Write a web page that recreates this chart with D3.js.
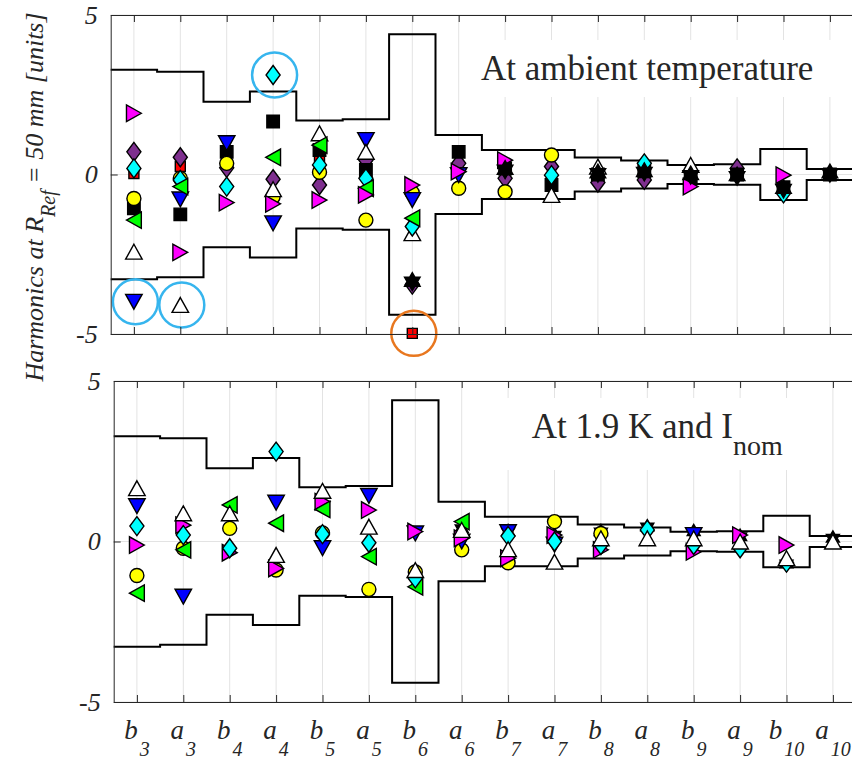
<!DOCTYPE html>
<html>
<head>
<meta charset="utf-8">
<script src="https://cdn.jsdelivr.net/npm/d3@7"></script>
<style>
    body { margin: 0; background: #fff; }
    text { font-family: "Liberation Serif", "Times New Roman", serif; fill: #262626; }
</style>
</head>
<body>
<div id="chart"></div>
<script>
// harmonics, in the order of the x axis
var categories = ['b3', 'a3', 'b4', 'a4', 'b5', 'a5', 'b6', 'a6', 'b7', 'a7', 'b8', 'a8', 'b9', 'a9', 'b10', 'a10'];
var yTicks = [-5, 0, 5];

// tolerance band (symmetric, +/-)
var tolerance = [3.28, 3.22, 2.28, 2.6, 1.69, 1.73, 4.4, 1.24, 0.77, 0.77, 0.53, 0.44, 0.3, 0.32, 0.8, 0.17];

// at ambient temperature
var warmRed  = [0.03, 0.25, null, null, 0.56, null, -4.98, null, null, null, null, null, null, null, null, null];
var warmPur  = [0.71, 0.54, 0.21, -0.15, -0.33, 0.45, -3.45, 0.35, -0.12, 0.25, -0.25, -0.17, null, 0.19, null, null];
var warmBlk  = [-1.06, -1.25, 0.71, 1.66, 0.77, 0.14, null, 0.71, 0.19, -0.33, 0.0, 0.1, -0.1, 0.0, -0.4, 0.0];
var warmYel  = [-0.75, -0.12, 0.35, -0.7, 0.07, -1.43, -0.57, -0.43, -0.54, 0.61, null, null, null, null, null, null];
var warmBlu  = [-3.99, -0.78, 0.98, -1.53, null, 1.08, -0.8, -0.02, null, null, null, null, null, null, null, null];
var warmWht  = [-2.42, -4.09, null, -0.46, 1.29, 0.71, -1.84, null, null, -0.64, 0.25, null, 0.3, null, null, null];
var warmCyan = [0.19, -0.17, -0.38, 3.12, 0.3, -0.12, -1.63, null, null, -0.02, null, 0.35, null, null, -0.59, null];
var warmGrn  = [-1.43, -0.38, null, 0.54, 0.92, -0.43, -1.37, null, null, null, null, null, null, null, null, null];
var warmMag  = [1.92, -2.44, -0.88, -0.92, -0.8, -0.64, -0.33, 0.09, 0.45, null, null, null, -0.38, null, -0.02, null];
var warmHex  = [null, null, null, null, null, null, -3.36, null, 0.15, null, 0.04, 0.08, -0.02, -0.05, -0.45, 0.04];

// at 1.9 K and nominal current
var coldHex  = [null, null, null, null, null, null, null, 0.4, 0.3, 0.2, 0.3, 0.45, 0.3, 0.15, -0.7, 0.1];
var coldYel  = [-1.06, -0.21, 0.41, -0.89, 0.27, -1.49, -0.95, -0.26, -0.66, 0.62, 0.25, null, null, null, null, null];
var coldBlu  = [1.1, -1.72, null, 1.21, -0.21, 1.42, 0.25, 0.0, 0.29, -0.1, null, null, 0.2, null, null, null];
var coldMag  = [-0.11, 0.51, -0.35, -0.84, 1.24, 0.98, 0.31, 0.1, -0.52, 0.2, -0.26, null, -0.32, 0.2, -0.11, null];
var coldGrn  = [-1.61, -0.26, 1.14, 0.57, 1.0, -0.47, -1.41, 0.62, null, null, null, null, null, null, null, null];
var coldCyan = [0.48, 0.2, -0.21, 2.8, 0.23, -0.04, -1.15, null, 0.17, 0.0, -0.11, 0.36, -0.11, -0.21, -0.66, null];
var coldWht  = [1.66, 0.88, 0.88, -0.42, 1.58, 0.46, -0.89, 0.36, -0.24, -0.63, 0.1, 0.1, 0.1, 0.0, -0.52, 0.0];

// highlighted points (top panel)
var highlights = [
    { cat: 'b3', value: -3.99, color: '#36b5ee' },
    { cat: 'a3', value: -4.09, color: '#36b5ee' },
    { cat: 'a4', value: 3.12, color: '#36b5ee' },
    { cat: 'b6', value: -4.98, color: '#e8771f' }
];

var width = 852,
    height = 763,
    plotW = 742.4;

// marker shapes, MATLAB style
var shapes = {
    square: { draw: function(c, s) { c.rect(-s / 2, -s / 2, s, s); } },
    circle: { draw: function(c, s) { c.moveTo(s / 2, 0); c.arc(0, 0, s / 2, 0, 2 * Math.PI); } },
    diamond: { draw: function(c, s) {
        c.moveTo(0, -s / 2); c.lineTo(s * 0.37, 0); c.lineTo(0, s / 2); c.lineTo(-s * 0.37, 0); c.closePath();
    } },
    up: { draw: function(c, s) { var w = s / 2, h = s * 0.45; c.moveTo(0, -h); c.lineTo(w, h); c.lineTo(-w, h); c.closePath(); } },
    down: { draw: function(c, s) { var w = s / 2, h = s * 0.45; c.moveTo(0, h); c.lineTo(w, -h); c.lineTo(-w, -h); c.closePath(); } },
    right: { draw: function(c, s) { var w = s / 2, h = s * 0.45; c.moveTo(h, 0); c.lineTo(-h, -w); c.lineTo(-h, w); c.closePath(); } },
    left: { draw: function(c, s) { var w = s / 2, h = s * 0.45; c.moveTo(-h, 0); c.lineTo(h, -w); c.lineTo(h, w); c.closePath(); } },
    hexagram: { draw: function(c, s) {
        var r = s / 2, ri = r / Math.sqrt(3);
        for (var k = 0; k < 12; k++) {
            var a = -Math.PI / 2 + k * Math.PI / 6, rr = k % 2 ? ri : r;
            if (k === 0) c.moveTo(rr * Math.cos(a), rr * Math.sin(a));
            else c.lineTo(rr * Math.cos(a), rr * Math.sin(a));
        }
        c.closePath();
    } }
};

var panels = [
    {
        x0: 110.7, y0: 15, y1: 334,
        title: 'At ambient temperature', sub: null, tx: 370.3, ty: 65, box: [365, 25, 400, 57],
        series: [
            { values: warmRed, shape: 'square', fill: '#ff0000', size: 10 },
            { values: warmPur, shape: 'diamond', fill: '#7e2f8e', size: 19 },
            { values: warmBlk, shape: 'square', fill: '#000000', size: 12.5 },
            { values: warmYel, shape: 'circle', fill: '#ffff00', size: 14 },
            { values: warmBlu, shape: 'down', fill: '#0000ff', size: 16.5 },
            { values: warmWht, shape: 'up', fill: '#ffffff', size: 16.5 },
            { values: warmCyan, shape: 'diamond', fill: '#00ffff', size: 19 },
            { values: warmGrn, shape: 'left', fill: '#00ff00', size: 16.5 },
            { values: warmMag, shape: 'right', fill: '#ff00ff', size: 16.5 },
            { values: warmHex, shape: 'hexagram', fill: '#000000', size: 18 }
        ],
        xLabels: false, rings: true
    },
    {
        x0: 113.7, y0: 381, y1: 702,
        title: 'At 1.9 K and I', sub: 'nom', tx: 418, ty: 57.3, box: [387, 17, 300, 72],
        series: [
            { values: coldHex, shape: 'hexagram', fill: '#000000', size: 15 },
            { values: coldYel, shape: 'circle', fill: '#ffff00', size: 14 },
            { values: coldBlu, shape: 'down', fill: '#0000ff', size: 16.5 },
            { values: coldMag, shape: 'right', fill: '#ff00ff', size: 16.5 },
            { values: coldGrn, shape: 'left', fill: '#00ff00', size: 16.5 },
            { values: coldCyan, shape: 'diamond', fill: '#00ffff', size: 19 },
            { values: coldWht, shape: 'up', fill: '#ffffff', size: 16.5 }
        ],
        xLabels: true, rings: false
    }
];

var svg = d3.select('#chart')
    .append('svg')
    .attr('width', width)
    .attr('height', height)
    .style('display', 'block')
;

svg.append('rect').attr('width', width).attr('height', height).attr('fill', '#fff');

panels.forEach(function(p) {
    var x = d3.scalePoint().domain(categories).range([p.x0, p.x0 + plotW]).padding(0.5);
    var y = d3.scaleLinear().domain([-5, 5]).range([p.y1, p.y0]);
    var half = x.step() / 2;

    var g = svg.append('g');

    // grid
    g.selectAll('.vgrid')
        .data(categories)
        .enter()
        .append('line')
        .attr('x1', function(d) { return x(d); })
        .attr('x2', function(d) { return x(d); })
        .attr('y1', p.y0)
        .attr('y2', p.y1)
        .attr('stroke', '#e3e3e3')
        .attr('stroke-width', 1)
    ;
    g.selectAll('.hgrid')
        .data(yTicks)
        .enter()
        .append('line')
        .attr('x1', p.x0)
        .attr('x2', p.x0 + plotW)
        .attr('y1', function(d) { return y(d); })
        .attr('y2', function(d) { return y(d); })
        .attr('stroke', '#e3e3e3')
        .attr('stroke-width', 1)
    ;

    // white box behind the title
    g.append('rect')
        .attr('x', p.x0 + p.box[0])
        .attr('y', p.y0 + p.box[1])
        .attr('width', p.box[2])
        .attr('height', p.box[3])
        .attr('fill', '#fff')
    ;

    // tolerance band
    var line = d3.line()
        .x(function(d) { return d[0]; })
        .y(function(d) { return y(d[1]); })
    ;
    [1, -1].forEach(function(sign) {
        var pts = [];
        categories.forEach(function(c, i) {
            pts.push([x(c) - half, sign * tolerance[i]]);
            pts.push([x(c) + half, sign * tolerance[i]]);
        });
        g.append('path')
            .attr('d', line(pts))
            .attr('fill', 'none')
            .attr('stroke', '#000')
            .attr('stroke-width', 2)
        ;
    });

    // markers
    p.series.forEach(function(s) {
        var sym = d3.symbol().type(shapes[s.shape]).size(s.size);
        var pts = categories
            .map(function(c, i) { return { cat: c, value: s.values[i] }; })
            .filter(function(d) { return d.value !== null; })
        ;
        g.append('g')
            .selectAll('path')
            .data(pts)
            .enter()
            .append('path')
            .attr('d', sym)
            .attr('transform', function(d) { return 'translate(' + x(d.cat) + ',' + y(d.value) + ')'; })
            .attr('fill', s.fill)
            .attr('stroke', '#000')
            .attr('stroke-width', 1.4)
            .attr('stroke-linejoin', 'miter')
        ;
    });

    if (p.rings) {
        g.selectAll('.ring')
            .data(highlights)
            .enter()
            .append('circle')
            .attr('cx', function(d) { return x(d.cat) + 1.5; })
            .attr('cy', function(d) { return y(d.value); })
            .attr('r', 22.5)
            .attr('fill', 'none')
            .attr('stroke', function(d) { return d.color; })
            .attr('stroke-width', 2.5)
        ;
    }

    // title
    var t = g.append('text')
        .attr('x', p.x0 + p.tx)
        .attr('y', p.y0 + p.ty)
        .style('font-size', '35px')
        .text(p.title)
    ;
    if (p.sub) {
        t.append('tspan')
            .attr('dy', 17)
            .style('font-size', '28px')
            .text(p.sub)
        ;
    }

    // axes
    var axTop = g.append('g')
        .attr('transform', 'translate(0,' + p.y0 + ')')
        .call(d3.axisTop(x).tickSize(-7).tickSizeOuter(0).tickFormat(''));
    var axBot = g.append('g')
        .attr('transform', 'translate(0,' + p.y1 + ')')
        .call(d3.axisBottom(x).tickSize(-7).tickSizeOuter(0).tickFormat(''));
    var axLeft = g.append('g')
        .attr('transform', 'translate(' + p.x0 + ',0)')
        .call(d3.axisLeft(y).tickValues(yTicks).tickSize(-7).tickSizeOuter(0).tickPadding(13)
            .tickFormat(function(d) { return d < 0 ? '-' + (-d) : d; }));

    [axTop, axBot, axLeft].forEach(function(a) {
        a.selectAll('path, line').attr('stroke', '#262626').attr('stroke-width', 1);
    });
    axLeft.selectAll('text')
        .attr('fill', '#262626')
        .style('font-size', '26px')
        .style('font-style', 'italic')
        .style('font-family', '"Liberation Serif", "Times New Roman", serif')
    ;

    if (p.xLabels) {
        var lbl = g.selectAll('.xlabel')
            .data(categories)
            .enter()
            .append('text')
            .attr('x', function(d) { return x(d); })
            .attr('y', p.y1 + 37)
            .attr('text-anchor', 'middle')
            .style('font-style', 'italic')
            .style('font-size', '27px')
        ;
        lbl.append('tspan').text(function(d) { return d.charAt(0); });
        lbl.append('tspan')
            .attr('dy', 17)
            .attr('dx', 2)
            .style('font-size', '20px')
            .text(function(d) { return d.slice(1); })
        ;
    }
});

// y label
var ylab = svg.append('text')
    .attr('transform', 'translate(43,197) rotate(-90)')
    .attr('text-anchor', 'middle')
    .style('font-style', 'italic')
    .style('font-size', '26px')
;
ylab.append('tspan').text('Harmonics at R');
ylab.append('tspan').attr('dy', 12).style('font-size', '20px').text('Ref');
ylab.append('tspan').attr('dy', -12).text(' = 50 mm [units]');
</script>
</body>
</html>
